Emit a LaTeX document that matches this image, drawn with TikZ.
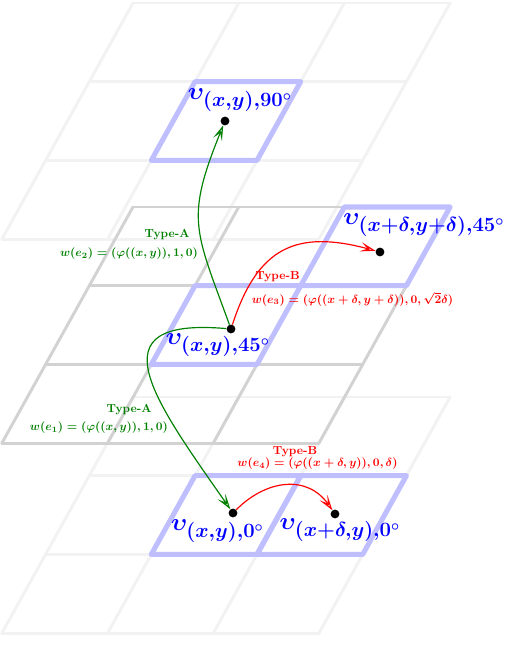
\documentclass[tikz,border=0pt]{standalone}
\usetikzlibrary{arrows.meta}
\DeclareMathSizes{20.74}{20.74}{16.2}{12}
\definecolor{typea}{rgb}{0,0.5,0}
\begin{document}
\begin{tikzpicture}[x=0.851pt, y=0.851pt,
    gridlight/.style = {draw=gray!10, line width=2.5pt, line cap=round},
    griddark/.style = {draw=gray!35, line width=2.5pt, line cap=round},
    cellmark/.style = {draw=blue!25, line width=4.3pt, line join=round},
    vertex/.style = {circle, fill=black, inner sep=0pt, minimum size=7.5pt},
    pose/.style = {text=blue, font=\huge\boldmath, inner sep=0pt},
    weight/.style = {font=\boldmath, inner sep=0pt},
    edgea/.style = {draw=typea, line width=1pt, -{Stealth[open, length=13pt, width=8pt, inset=6pt]}},
    edgeb/.style = {draw=red, line width=1pt, -{Stealth[open, length=13pt, width=8pt, inset=6pt]}}
  ]
  \useasboundingbox (0, 0) rectangle (514, 672);
  % three layers: 90 (top), 0 (bottom), 45 (middle, drawn last)
  \foreach \oy/\look in {669/gridlight, 275/gridlight, 465/griddark}
    \foreach \k in {0,...,3} {
      \draw [\look] (133-\k*43.7, \oy-\k*78.7) -- ++(317.1, 0);
      \draw [\look] (133+\k*105.7, \oy) -- ++(-131.1, -236.1);
    }
  \foreach \oy/\i/\j in {669/1/1, 465/1/1, 465/2/0, 275/1/1, 275/2/1}
    \draw [cellmark] (133+\i*105.7-\j*43.7, \oy-\j*78.7) -- ++(105.7, 0)
      -- ++(-43.7, -78.7) -- ++(-105.7, 0) -- cycle;

  \node [vertex] (v90) at (225, 551) {};
  \node [vertex] (v45) at (231, 343) {};
  \node [vertex] (v45d) at (380, 420) {};
  \node [vertex] (v0) at (233, 159) {};
  \node [vertex] (v0r) at (335, 158) {};

  \node [pose] (l90) at (240, 572) {$\upsilon_{(x,y),90^\circ}$};
  \node [pose] (l45d) at (424, 447) {$\upsilon_{(x+\delta,y+\delta),45^\circ}$};
  \node [pose] (l45) at (218, 327) {$\upsilon_{(x,y),45^\circ}$};
  \node [pose] (l0) at (217.5, 141) {$\upsilon_{(x,y),0^\circ}$};
  \node [pose] (l0r) at (340, 142) {$\upsilon_{(x+\delta,y),0^\circ}$};

  \draw [edgea] (v45) to [out=110, in=-112, looseness=1.3] (v90);
  \draw [edgea] (v45) to [out=175, in=125, looseness=1.9] (v0);
  \draw [edgeb] (v45) to [out=72, in=165, looseness=1.3] (v45d);
  \draw [edgeb] (v0) to [out=45, in=125, looseness=1.15] (v0r);

  \node [weight, text=typea] (ta2) at (167, 437) {\textbf{Type-A}};
  \node [weight, text=typea] (w2) at (129, 418) {$w(e_2) = (\varphi((x,y)),1,0)$};
  \node [weight, text=red] (tb3) at (277.5, 395) {\textbf{Type-B}};
  \node [weight, text=red] (w3) at (352.5, 373) {$w(e_3) = (\varphi((x+\delta,y+\delta)),0,\sqrt{2}\delta)$};
  \node [weight, text=typea] (ta1) at (129, 262) {\textbf{Type-A}};
  \node [weight, text=typea] (w1) at (99, 244) {$w(e_1) = (\varphi((x,y)),1,0)$};
  \node [weight, text=red] (tb4) at (295, 220) {\textbf{Type-B}};
  \node [weight, text=red] (w4) at (317.5, 208) {$w(e_4) = (\varphi((x+\delta,y)),0,\delta)$};
\end{tikzpicture}
\end{document}
